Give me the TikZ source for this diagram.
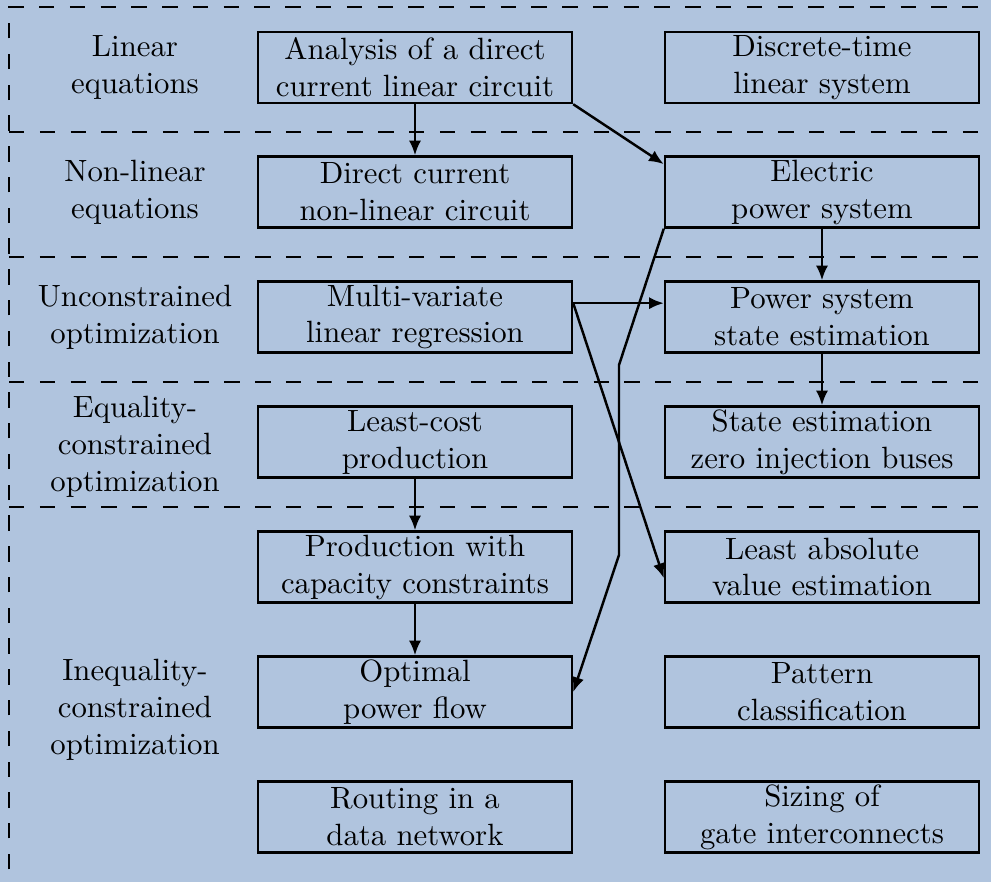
\documentclass[tikz,border=0pt]{standalone}
\usetikzlibrary{arrows.meta}
\definecolor{bgblue}{RGB}{176,196,222}
\begin{document}
\begin{tikzpicture}[x=0.325pt,y=-0.325pt,
  box/.style={draw,line width=0.8pt,minimum width=102.05pt,minimum height=23.07pt,inner sep=0pt,align=center},
  cat/.style={align=center,inner sep=0pt},
  sep/.style={line width=0.5pt,dash pattern=on 5pt off 5pt},
  arr/.style={line width=0.8pt,-{Latex[length=4.8pt,width=4pt]}},
  conn/.style={line width=0.8pt}]
\useasboundingbox (0,0) rectangle (991,882);
\fill[bgblue] (0,0) rectangle (991,882);
\begin{scope}
\clip (0,0) rectangle (991,882);
\draw[sep] (9,900) -- (9,7) -- (1000,7);
\foreach \yy in {132,257,382,507} {\draw[sep] (9,\yy) -- (1000,\yy);}
\end{scope}
% category labels
\node[cat] (L1) at (135,67.5) {Linear\\equations};
\node[cat] (L2) at (135,192) {Non-linear\\equations};
\node[cat] (L3) at (135,317) {Unconstrained\\optimization};
\node[cat] (L4) at (135,447) {Equality-\\constrained\\optimization};
\node[cat] (L5) at (135,710) {Inequality-\\constrained\\optimization};
% left column
\node[box] (A1) at (415,67.5) {Analysis of a direct\\current linear circuit};
\node[box] (A2) at (415,192) {Direct current\\non-linear circuit};
\node[box] (A3) at (415,317) {Multi-variate\\linear regression};
\node[box] (A4) at (415,442) {Least-cost\\production};
\node[box] (A5) at (415,567) {Production with\\capacity constraints};
\node[box] (A6) at (415,692) {Optimal\\power flow};
\node[box] (A7) at (415,817) {Routing in a\\data network};
% right column
\node[box] (B1) at (822,67.5) {Discrete-time\\linear system};
\node[box] (B2) at (822,192) {Electric\\power system};
\node[box] (B3) at (822,317) {Power system\\state estimation};
\node[box] (B4) at (822,442) {State estimation\\zero injection buses};
\node[box] (B5) at (822,567) {Least absolute\\value estimation};
\node[box] (B6) at (822,692) {Pattern\\classification};
\node[box] (B7) at (822,817) {Sizing of\\gate interconnects};
% connectors
\coordinate (k1) at (619,365);
\coordinate (k2) at (619,555);
\draw[arr] (A1) -- (A2);
\draw[arr] (A1.south east) -- (B2.170);
\draw[arr] (B2) -- (B3);
\draw[arr] (B3) -- (B4);
\draw[arr] (A3.5) -- (B3.175);
\draw[arr] (A3.5) -- (B5.184);
\draw[arr] (B2.south west) -- (k1) -- (k2) -- (A6.east);
\draw[arr] (A4) -- (A5);
\draw[arr] (A5) -- (A6);
\end{tikzpicture}
\end{document}
